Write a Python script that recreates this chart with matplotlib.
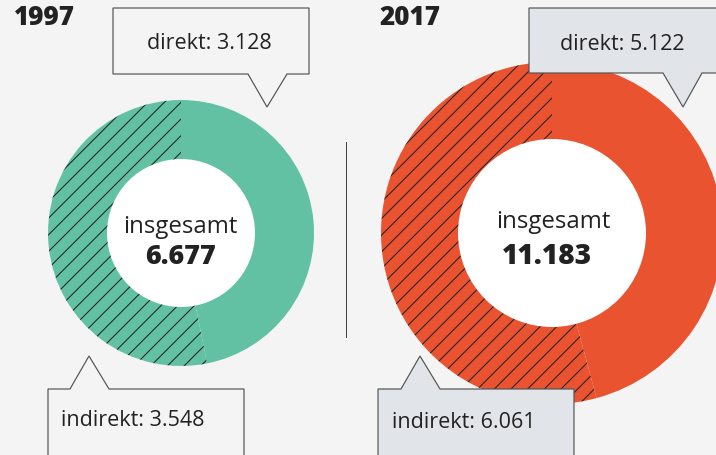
import matplotlib
matplotlib.use("Agg")
import matplotlib.pyplot as plt
from matplotlib.patches import Circle, Polygon

years = ["1997", "2017"]
direkt = [3128, 5122]
indirekt = [3548, 6061]
direkt_labels = ["direkt: 3.128", "direkt: 5.122"]
indirekt_labels = ["indirekt: 3.548", "indirekt: 6.061"]
total_labels = ["6.677", "11.183"]
colors = ["#63c1a3", "#ea5330"]

BG = "#f4f4f4"
W, H = 716, 456
DPI = 100
PX = 72 / DPI  # points per pixel
plt.rcParams['font.family'] = ['Open Sans', 'DejaVu Sans']
plt.rcParams['hatch.linewidth'] = 0.75

fig = plt.figure(figsize=(W / DPI, H / DPI), dpi=DPI, facecolor=BG)
ax = fig.add_axes([0, 0, 1, 1])
ax.set_facecolor(BG)

def yy(y):
    return H - y

centers = [(181, yy(234)), (552, yy(234))]
radii = [133, 171]
inner = [74, 94]

for i in range(2):
    wedges, _ = ax.pie([direkt[i], indirekt[i]], center=centers[i], radius=radii[i],
                       startangle=90, counterclock=False, colors=[colors[i], colors[i]],
                       wedgeprops=dict(linewidth=0))
    wedges[1].set_hatch('//')
    wedges[1].set_edgecolor('#222222')
    wedges[1].set_linewidth(0)
    ax.add_patch(Circle(centers[i], inner[i], facecolor='white', edgecolor='none', zorder=3))

# center texts
ax.text(180, yy(227), "insgesamt", ha='center', va='center', fontsize=24 * PX, color='#222', zorder=4)
ax.text(180, yy(257), total_labels[0], ha='center', va='center', fontsize=27 * PX, fontweight='extra bold', color='#222', zorder=4)
ax.text(553, yy(222), "insgesamt", ha='center', va='center', fontsize=24 * PX, color='#222', zorder=4)
ax.text(547, yy(257), total_labels[1], ha='center', va='center', fontsize=28 * PX, fontweight='extra bold', color='#222', zorder=4)

# titles
ax.text(14, yy(18), years[0], ha='left', va='center', fontsize=26 * PX, fontweight='extra bold', color='#222')
ax.text(379, yy(18), years[1], ha='left', va='center', fontsize=26 * PX, fontweight='extra bold', color='#222')

# divider
ax.plot([346, 346], [yy(143), yy(338)], color='#444', lw=1 * PX)

def callout_top(x0, x1, y0, y1, b0, b1, tipx, tipy, fc):
    pts = [(x0, y0), (x1, y0), (x1, y1), (b1, y1), (tipx, tipy), (b0, y1), (x0, y1)]
    ax.add_patch(Polygon([(p[0], yy(p[1])) for p in pts], closed=True, facecolor=fc,
                         edgecolor='#555', lw=1.2 * PX, zorder=5))

def callout_bottom(x0, x1, y0, y1, b0, b1, tipx, tipy, fc):
    pts = [(x0, y0), (b0, y0), (tipx, tipy), (b1, y0), (x1, y0), (x1, y1), (x0, y1)]
    ax.add_patch(Polygon([(p[0], yy(p[1])) for p in pts], closed=True, facecolor=fc,
                         edgecolor='#555', lw=1.2 * PX, zorder=5))

callout_top(113, 309, 9, 75, 248, 287, 267, 108, BG)
callout_bottom(48, 244, 390, 470, 70, 109, 89, 357, BG)
callout_top(529, 730, 9, 74, 663, 702, 683, 108, '#e1e4e9')
callout_bottom(378, 574, 390, 470, 401, 440, 420, 357, '#e1e4e9')

fs = 21.5 * PX
ax.text(209, yy(43), direkt_labels[0], ha='center', va='center', fontsize=fs, color='#222', zorder=6)
ax.text(61, yy(421), indirekt_labels[0], ha='left', va='center', fontsize=fs, color='#222', zorder=6)
ax.text(560, yy(44), direkt_labels[1], ha='left', va='center', fontsize=fs, color='#222', zorder=6)
ax.text(392, yy(423), indirekt_labels[1], ha='left', va='center', fontsize=fs, color='#222', zorder=6)

ax.set_xlim(0, W)
ax.set_ylim(0, H)
ax.set_aspect('auto')
ax.axis('off')
fig.savefig("out.png", dpi=DPI, facecolor=BG)
